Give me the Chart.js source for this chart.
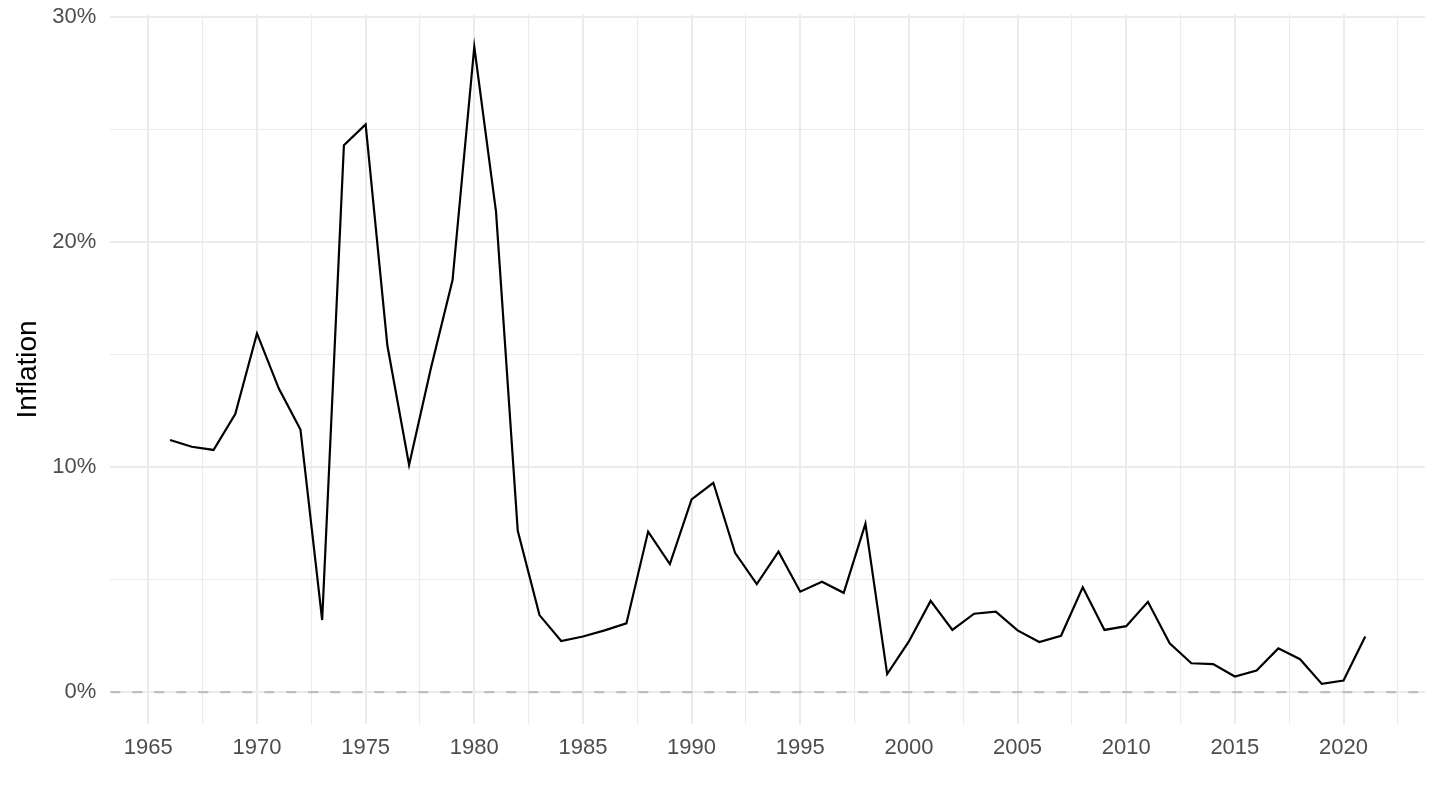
<!DOCTYPE html>
<html>
<head>
<meta charset="utf-8">
<script src="https://cdn.jsdelivr.net/npm/chart.js@4"></script>
<style>
  html, body { margin: 0; padding: 0; background: #fff; }
  #wrap { width: 1440px; height: 810px; }
</style>
</head>
<body>
<div id="wrap"><canvas id="inflationChart"></canvas></div>
<script>
// data
const years = [1966, 1967, 1968, 1969, 1970, 1971, 1972, 1973, 1974, 1975,
    1976, 1977, 1978, 1979, 1980, 1981, 1982, 1983, 1984, 1985,
    1986, 1987, 1988, 1989, 1990, 1991, 1992, 1993, 1994, 1995,
    1996, 1997, 1998, 1999, 2000, 2001, 2002, 2003, 2004, 2005,
    2006, 2007, 2008, 2009, 2010, 2011, 2012, 2013, 2014, 2015,
    2016, 2017, 2018, 2019, 2020, 2021];
const inflation = [11.2, 10.9, 10.76, 12.36, 15.94, 13.5, 11.67, 3.2, 24.3, 25.23,
    15.4, 10.09, 14.38, 18.31, 28.68, 21.35, 7.17, 3.42, 2.27, 2.47,
    2.74, 3.05, 7.13, 5.69, 8.56, 9.3, 6.19, 4.8, 6.24, 4.46,
    4.9, 4.41, 7.48, 0.8, 2.25, 4.05, 2.76, 3.48, 3.57, 2.74,
    2.22, 2.5, 4.66, 2.76, 2.93, 4.01, 2.17, 1.28, 1.24, 0.69,
    0.96, 1.94, 1.46, 0.36, 0.51, 2.47];
const xMajorTicks = [1965, 1970, 1975, 1980, 1985, 1990, 1995, 2000, 2005, 2010, 2015, 2020];
const xMinorTicks = [1967.5, 1972.5, 1977.5, 1982.5, 1987.5, 1992.5, 1997.5, 2002.5, 2007.5, 2012.5, 2017.5, 2022.5];
const yMajorTicks = [0, 10, 20, 30];
const yMinorTicks = [5, 15, 25];
const zeroLevel = 0;

document.addEventListener('DOMContentLoaded', function () {
    const ctx = document.getElementById('inflationChart').getContext('2d');

    // ggplot style 5% expansion
    const xSpan = years[years.length - 1] - years[0];
    const xMin = years[0] - xSpan * 0.05;
    const xMax = years[years.length - 1] + xSpan * 0.05;
    const yLo = Math.min(zeroLevel, ...inflation);
    const yHi = Math.max(...inflation);
    const yMin = yLo - (yHi - yLo) * 0.05;
    const yMax = yHi + (yHi - yLo) * 0.05;

    const lineData = years.map((y, i) => ({ x: y, y: inflation[i] }));
    const zeroData = [{ x: xMin, y: zeroLevel }, { x: xMax, y: zeroLevel }];

    function isMajor(list, v) {
        return list.indexOf(v) !== -1;
    }

    new Chart(ctx, {
        type: 'line',
        data: {
            datasets: [{
                label: 'Inflation',
                data: lineData,
                borderColor: '#000000',
                borderWidth: 2.2,
                pointRadius: 0,
                tension: 0,
                fill: false,
                order: 1
            }, {
                label: 'zero',
                data: zeroData,
                borderColor: '#bebebe',
                borderWidth: 2.2,
                borderDash: [10, 12],
                pointRadius: 0,
                fill: false,
                order: 2
            }]
        },
        options: {
            responsive: true,
            maintainAspectRatio: false,
            animation: false,
            devicePixelRatio: 1,
            layout: {
                padding: { left: 0, right: 15, top: 14.5, bottom: 0 }
            },
            plugins: {
                legend: { display: false },
                tooltip: { enabled: false }
            },
            scales: {
                x: {
                    type: 'linear',
                    min: xMin,
                    max: xMax,
                    afterBuildTicks: function (scale) {
                        scale.ticks = xMajorTicks.concat(xMinorTicks).sort((a, b) => a - b).map(v => ({ value: v }));
                    },
                    afterFit: function (scale) {
                        scale.height = 85.7;
                        scale.paddingLeft = 0;
                        scale.paddingRight = 0;
                    },
                    border: { display: false },
                    grid: {
                        drawTicks: false,
                        color: '#ebebeb',
                        lineWidth: c => (c.tick && isMajor(xMajorTicks, c.tick.value) ? 2 : 1.1)
                    },
                    ticks: {
                        autoSkip: false,
                        maxRotation: 0,
                        padding: 10,
                        color: '#4d4d4d',
                        font: { family: 'Liberation Sans, Arial, sans-serif', size: 22 },
                        callback: v => (isMajor(xMajorTicks, v) ? String(v) : '')
                    }
                },
                y: {
                    type: 'linear',
                    min: yMin,
                    max: yMax,
                    afterBuildTicks: function (scale) {
                        scale.ticks = yMajorTicks.concat(yMinorTicks).sort((a, b) => a - b).map(v => ({ value: v }));
                    },
                    afterFit: function (scale) {
                        // keep the panel where the reference has it
                        scale.width = 110.3;
                        scale.paddingTop = 0;
                        scale.paddingBottom = 0;
                    },
                    border: { display: false },
                    grid: {
                        drawTicks: false,
                        color: '#ebebeb',
                        lineWidth: c => (c.tick && isMajor(yMajorTicks, c.tick.value) ? 2 : 1.1)
                    },
                    ticks: {
                        autoSkip: false,
                        padding: 14,
                        color: '#4d4d4d',
                        font: { family: 'Liberation Sans, Arial, sans-serif', size: 22 },
                        callback: v => (isMajor(yMajorTicks, v) ? v + '%' : '')
                    },
                    title: {
                        display: true,
                        text: 'Inflation',
                        color: '#000000',
                        padding: { top: 11, bottom: 0 },
                        font: { family: 'Liberation Sans, Arial, sans-serif', size: 28 }
                    }
                }
            }
        }
    });
});
</script>
</body>
</html>
